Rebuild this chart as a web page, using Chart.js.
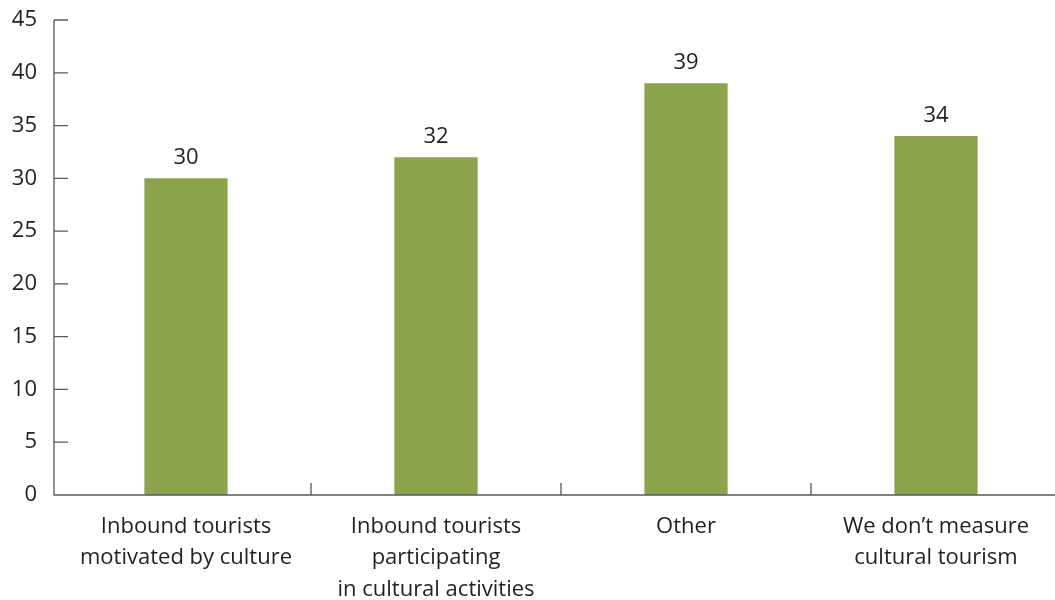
<!DOCTYPE html>
<html>
<head>
<meta charset="utf-8">
<script src="https://cdn.jsdelivr.net/npm/chart.js@4/dist/chart.umd.min.js"></script>
<style>
  html, body { margin: 0; padding: 0; background: #fff; overflow: hidden; }
  #wrap { width: 1061px; height: 600px; }
</style>
</head>
<body>
<div id="wrap"><canvas id="tourismChart" width="1061" height="600"></canvas></div>
<script>
const categories = [
  ['Inbound tourists', 'motivated by culture'],
  ['Inbound tourists', 'participating', 'in cultural activities'],
  ['Other'],
  ['We don\u2019t measure', 'cultural tourism']
];
const shares = [30, 32, 39, 34];
const yTicks = [0, 5, 10, 15, 20, 25, 30, 35, 40, 45];

const FONT = "'Open Sans', sans-serif";
const TEXT = '#231f20';
const AXIS = '#58595b';
const AXIS_GAP = 7; // y axis line sits a little left of the first category

// axis lines, inward tick marks and value labels
const axesAndLabels = {
  id: 'axesAndLabels',
  afterDatasetsDraw(chart) {
    const { ctx, chartArea, scales: { x, y } } = chart;
    const axisX = chartArea.left - AXIS_GAP;
    ctx.save();
    ctx.strokeStyle = AXIS;
    ctx.lineWidth = 1.3;
    ctx.beginPath();
    ctx.moveTo(axisX, y.getPixelForValue(45));
    ctx.lineTo(axisX, chartArea.bottom);
    ctx.lineTo(chartArea.right, chartArea.bottom);
    yTicks.slice(1).forEach(v => {
      const py = y.getPixelForValue(v);
      ctx.moveTo(axisX, py);
      ctx.lineTo(axisX + 14, py);
    });
    for (let i = 1; i < categories.length; i++) {
      const px = (x.getPixelForValue(i - 1) + x.getPixelForValue(i)) / 2;
      ctx.moveTo(px, chartArea.bottom);
      ctx.lineTo(px, chartArea.bottom - 12);
    }
    ctx.stroke();

    ctx.fillStyle = TEXT;
    ctx.font = '22px ' + FONT;
    ctx.textAlign = 'center';
    ctx.textBaseline = 'alphabetic';
    chart.getDatasetMeta(0).data.forEach((bar, i) => {
      ctx.fillText(String(shares[i]), bar.x, bar.y - 14);
    });
    ctx.restore();
  }
};

new Chart(document.getElementById('tourismChart'), {
  type: 'bar',
  data: {
    labels: categories,
    datasets: [{
      data: shares,
      backgroundColor: '#8aa44b',
      categoryPercentage: 0.333,
      barPercentage: 1
    }]
  },
  options: {
    responsive: false,
    animation: false,
    layout: { padding: { top: 20, right: 0, left: 0, bottom: 0 } },
    plugins: { legend: { display: false }, tooltip: { enabled: false } },
    scales: {
      x: {
        grid: { display: false, drawTicks: false },
        border: { display: false },
        afterFit: s => {
          s.height = 105;
          s.paddingLeft = 0;
          s.paddingRight = 0;
        },
        ticks: {
          color: TEXT,
          padding: 16,
          maxRotation: 0,
          autoSkip: false,
          font: { family: FONT, size: 22, lineHeight: 1.43 }
        }
      },
      y: {
        min: 0,
        max: 45,
        grid: { display: false, drawTicks: false },
        border: { display: false },
        afterFit: s => {
          s.width = 61;
          s.paddingTop = 0;
          s.paddingBottom = 0;
        },
        afterBuildTicks: s => { s.ticks = yTicks.map(v => ({ value: v })); },
        ticks: {
          color: TEXT,
          padding: 24,
          font: { family: FONT, size: 22 }
        }
      }
    }
  },
  plugins: [axesAndLabels]
});
</script>
</body>
</html>
